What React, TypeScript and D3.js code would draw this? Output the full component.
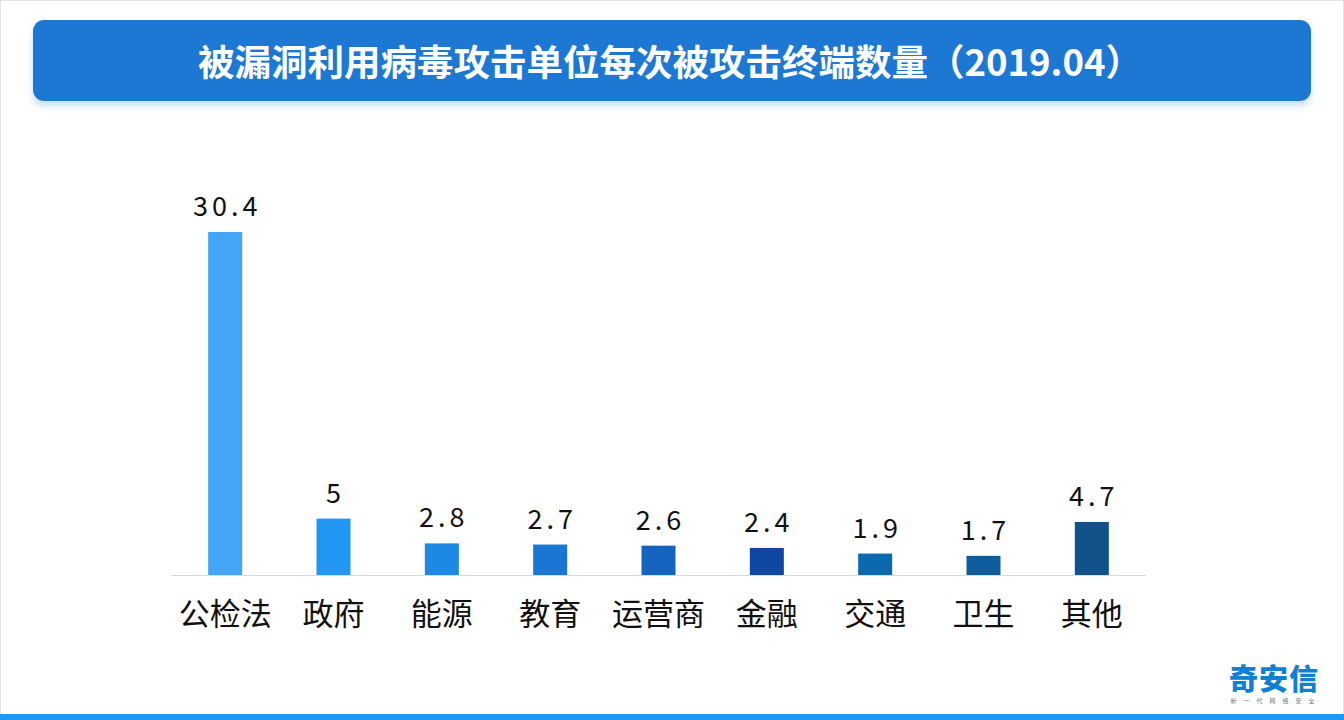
import React from "react";
import * as d3 from "d3";

const categories = ["公检法", "政府", "能源", "教育", "运营商", "金融", "交通", "卫生", "其他"];
const values = [30.4, 5, 2.8, 2.7, 2.6, 2.4, 1.9, 1.7, 4.7];
const valueLabels = ["30.4", "5", "2.8", "2.7", "2.6", "2.4", "1.9", "1.7", "4.7"];
const barColors = ["#42a5f5", "#2196f3", "#1e88e5", "#1976d2", "#1565c0", "#0d47a1", "#0b69b0", "#0d5c9c", "#11528a"];
const title = "被漏洞利用病毒攻击单位每次被攻击终端数量（2019.04）";

export default function App() {
  const W = 1344, H = 720;
  const baseline = 575;
  const x = d3.scaleBand<string>().domain(categories).range([171, 1146]).paddingInner(0.686).paddingOuter(0.343);
  const y = d3.scaleLinear().domain([0, 30.4]).range([baseline, 232]);
  const cjk = "'Noto Sans CJK SC', 'Noto Sans', sans-serif";
  return (
    <svg width={W} height={H} style={{ position: "absolute", left: 0, top: 0, display: "block" }}>
      <defs>
        <filter id="sh" x="-5%" y="-20%" width="110%" height="160%">
          <feDropShadow dx="0" dy="5" stdDeviation="3" floodColor="#9fcdf7" floodOpacity="0.6" />
        </filter>
      </defs>
      <rect x={0} y={0} width={W} height={H} fill="#ffffff" />
      <rect x={0.5} y={0.5} width={W - 1} height={H - 1} fill="none" stroke="#e3e3e3" strokeWidth={1} />
      <rect x={33} y={20} width={1278} height={81} rx={11} fill="#1b78d2" filter="url(#sh)" />
      <text x={670} y={60} textAnchor="middle" dominantBaseline="central" fill="#ffffff" fontFamily={cjk} fontWeight={700} fontSize={36.5}>
        {title}
      </text>
      <line x1={171} x2={1146} y1={baseline + 0.5} y2={baseline + 0.5} stroke="#d9d9d9" strokeWidth={1} />
      {categories.map((c, i) => {
        const bx = x(c)!;
        const bw = x.bandwidth();
        const top = y(values[i]);
        const cx = bx + bw / 2;
        return (
          <g key={c}>
            <rect x={bx} y={top} width={bw} height={baseline - top} fill={barColors[i]} />
            <text x={cx + 2} y={top - 16} textAnchor="middle" fill="#111" fontFamily={cjk} fontSize={27} letterSpacing={4}>
              {valueLabels[i]}
            </text>
            <text x={cx} y={625} textAnchor="middle" fill="#111" fontFamily={cjk} fontSize={31}>
              {c}
            </text>
          </g>
        );
      })}
      <text x={1274} y={690} textAnchor="middle" fill="#1180d0" fontFamily={cjk} fontWeight={900} fontSize={29} letterSpacing={1}>
        奇安信
      </text>
      <text x={1276} y={703} textAnchor="middle" fill="#777" fontFamily={cjk} fontSize={6} letterSpacing={7}>
        新一代网络安全
      </text>
      <rect x={0} y={714} width={W} height={6} fill="#2196f3" />
    </svg>
  );
}
